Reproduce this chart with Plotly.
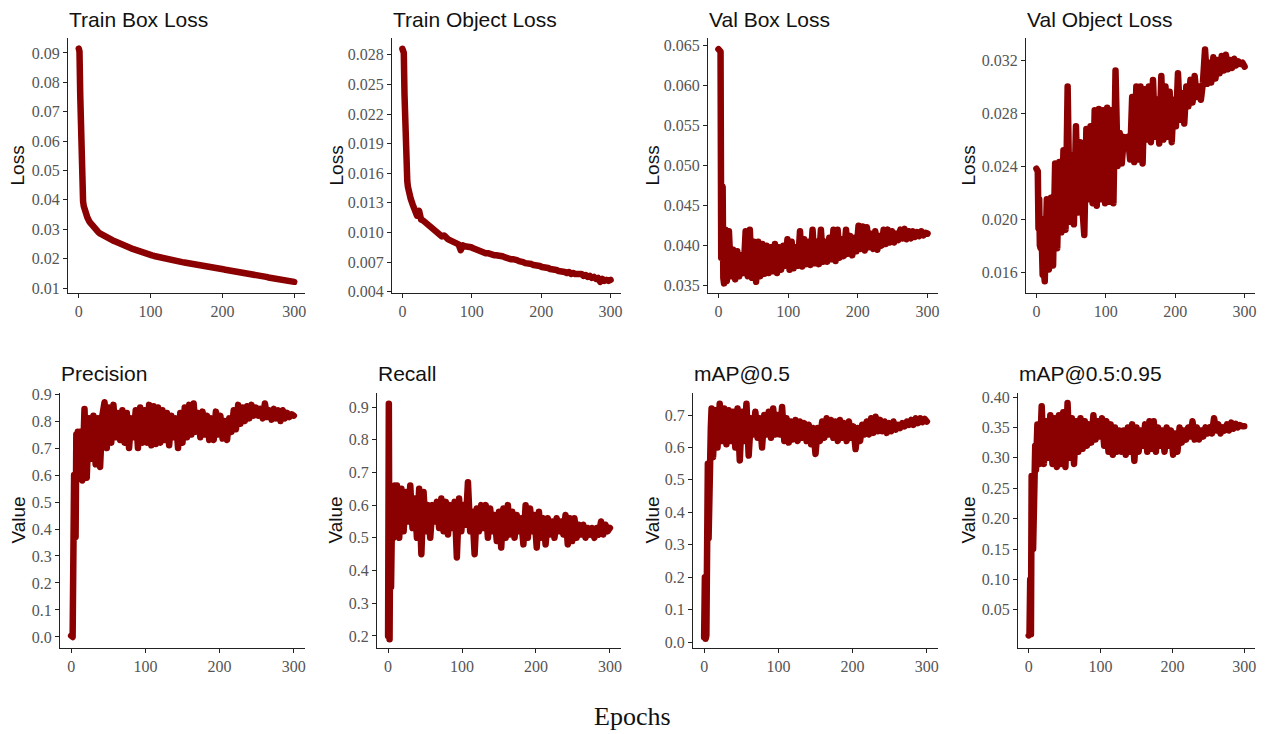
import plotly.graph_objects as go

epochs = [0, 1, 2, 3, 4, 5, 6, 7, 8, 9,
          10, 12, 15, 18, 21, 24, 27, 30, 33, 36,
          39, 42, 45, 48, 51, 54, 57, 60, 63, 66,
          69, 72, 75, 78, 81, 84, 87, 90, 93, 96,
          99, 102, 105, 108, 111, 114, 117, 120, 123, 126,
          129, 132, 135, 138, 141, 144, 147, 150, 153, 156,
          159, 162, 165, 168, 171, 174, 177, 180, 183, 186,
          189, 192, 195, 198, 201, 204, 207, 210, 213, 216,
          219, 222, 225, 228, 231, 234, 237, 240, 243, 246,
          249, 252, 255, 258, 261, 264, 267, 270, 273, 276,
          279, 282, 285, 288, 291, 294, 297, 300]

train_box_loss = [0.0915, 0.0905, 0.0760, 0.0550, 0.0460, 0.0425, 0.0395, 0.0378, 0.0368, 0.0360,
                  0.0354, 0.0340, 0.0325, 0.0315, 0.0307, 0.0299, 0.0291, 0.0285, 0.0280, 0.0276,
                  0.0272, 0.0268, 0.0265, 0.0261, 0.0258, 0.0254, 0.0252, 0.0248, 0.0245, 0.0242,
                  0.0239, 0.0236, 0.0233, 0.0230, 0.0228, 0.0225, 0.0222, 0.0220, 0.0217, 0.0215,
                  0.0213, 0.0211, 0.0209, 0.0207, 0.0205, 0.0203, 0.0202, 0.0200, 0.0198, 0.0197,
                  0.0196, 0.0194, 0.0193, 0.0191, 0.0190, 0.0188, 0.0187, 0.0186, 0.0184, 0.0183,
                  0.0182, 0.0181, 0.0179, 0.0178, 0.0177, 0.0175, 0.0174, 0.0173, 0.0172, 0.0170,
                  0.0169, 0.0168, 0.0166, 0.0165, 0.0164, 0.0162, 0.0161, 0.0160, 0.0159, 0.0157,
                  0.0156, 0.0155, 0.0153, 0.0152, 0.0151, 0.0149, 0.0148, 0.0147, 0.0146, 0.0144,
                  0.0143, 0.0142, 0.0140, 0.0139, 0.0138, 0.0136, 0.0135, 0.0134, 0.0133, 0.0131,
                  0.0130, 0.0129, 0.0127, 0.0126, 0.0125, 0.0123, 0.0122, 0.0121]

train_object_loss = [0.0286, 0.0284, 0.0282, 0.0240, 0.0190, 0.0172, 0.0160, 0.0152, 0.0146, 0.0142,
                     0.0138, 0.0134, 0.0128, 0.0124, 0.0117, 0.0122, 0.0113, 0.0112, 0.0110, 0.0108,
                     0.0106, 0.0104, 0.0102, 0.0101, 0.0099, 0.0098, 0.0096, 0.0097, 0.0094, 0.0093,
                     0.0092, 0.0091, 0.0091, 0.0089, 0.0088, 0.0082, 0.0087, 0.0086, 0.0086, 0.0085,
                     0.0085, 0.0084, 0.0083, 0.0082, 0.0082, 0.0081, 0.0080, 0.0079, 0.0079, 0.0078,
                     0.0078, 0.0077, 0.0077, 0.0077, 0.0076, 0.0076, 0.0075, 0.0074, 0.0074, 0.0073,
                     0.0073, 0.0073, 0.0072, 0.0071, 0.0071, 0.0070, 0.0069, 0.0069, 0.0068, 0.0068,
                     0.0067, 0.0067, 0.0066, 0.0066, 0.0065, 0.0065, 0.0064, 0.0064, 0.0063, 0.0063,
                     0.0062, 0.0062, 0.0061, 0.0061, 0.0060, 0.0060, 0.0059, 0.0060, 0.0058, 0.0059,
                     0.0058, 0.0058, 0.0057, 0.0058, 0.0056, 0.0057, 0.0055, 0.0056, 0.0054, 0.0055,
                     0.0053, 0.0054, 0.0050, 0.0053, 0.0051, 0.0052, 0.0051, 0.0052]

val_box_loss = [0.0645, 0.0644, 0.0643, 0.0642, 0.0385, 0.0475, 0.0473, 0.0360, 0.0353, 0.0395,
                0.0420, 0.0356, 0.0418, 0.0362, 0.0395, 0.0358, 0.0393, 0.0362, 0.0388, 0.0366,
                0.0418, 0.0362, 0.0420, 0.0360, 0.0405, 0.0355, 0.0405, 0.0362, 0.0402, 0.0365,
                0.0400, 0.0366, 0.0398, 0.0368, 0.0402, 0.0366, 0.0398, 0.0370, 0.0400, 0.0375,
                0.0408, 0.0370, 0.0405, 0.0372, 0.0398, 0.0375, 0.0418, 0.0374, 0.0408, 0.0377,
                0.0405, 0.0376, 0.0420, 0.0378, 0.0405, 0.0377, 0.0420, 0.0380, 0.0405, 0.0380,
                0.0410, 0.0383, 0.0420, 0.0381, 0.0420, 0.0385, 0.0408, 0.0387, 0.0420, 0.0390,
                0.0412, 0.0388, 0.0410, 0.0393, 0.0425, 0.0396, 0.0424, 0.0394, 0.0423, 0.0398,
                0.0415, 0.0396, 0.0418, 0.0395, 0.0412, 0.0400, 0.0420, 0.0402, 0.0420, 0.0404,
                0.0418, 0.0404, 0.0415, 0.0407, 0.0420, 0.0409, 0.0421, 0.0408, 0.0418, 0.0409,
                0.0418, 0.0411, 0.0417, 0.0412, 0.0418, 0.0413, 0.0416, 0.0415]

val_object_loss = [0.0238, 0.0237, 0.0236, 0.0193, 0.0215, 0.0180, 0.0178, 0.0200, 0.0170, 0.0158,
                   0.0165, 0.0153, 0.0215, 0.0162, 0.0216, 0.0165, 0.0242, 0.0178, 0.0243, 0.0190,
                   0.0252, 0.0192, 0.0300, 0.0198, 0.0248, 0.0196, 0.0270, 0.0205, 0.0258, 0.0210,
                   0.0188, 0.0268, 0.0215, 0.0270, 0.0212, 0.0282, 0.0210, 0.0283, 0.0215, 0.0282,
                   0.0212, 0.0284, 0.0213, 0.0282, 0.0212, 0.0312, 0.0240, 0.0265, 0.0242, 0.0262,
                   0.0258, 0.0262, 0.0245, 0.0292, 0.0243, 0.0300, 0.0245, 0.0300, 0.0242, 0.0298,
                   0.0260, 0.0300, 0.0258, 0.0305, 0.0262, 0.0290, 0.0257, 0.0308, 0.0260, 0.0300,
                   0.0262, 0.0296, 0.0258, 0.0290, 0.0270, 0.0310, 0.0275, 0.0295, 0.0272, 0.0300,
                   0.0285, 0.0305, 0.0288, 0.0308, 0.0292, 0.0300, 0.0290, 0.0303, 0.0328, 0.0302,
                   0.0318, 0.0303, 0.0322, 0.0306, 0.0320, 0.0310, 0.0323, 0.0312, 0.0324, 0.0313,
                   0.0320, 0.0314, 0.0321, 0.0316, 0.0319, 0.0317, 0.0318, 0.0315]

precision = [0.005, 0.230, 0.000, 0.300, 0.600, 0.450, 0.370, 0.750, 0.620, 0.760,
             0.650, 0.760, 0.580, 0.845, 0.590, 0.810, 0.660, 0.820, 0.640, 0.810,
             0.630, 0.820, 0.870, 0.700, 0.850, 0.720, 0.860, 0.740, 0.830, 0.730,
             0.840, 0.720, 0.830, 0.700, 0.810, 0.740, 0.840, 0.700, 0.850, 0.720,
             0.840, 0.720, 0.860, 0.710, 0.855, 0.715, 0.850, 0.720, 0.840, 0.730,
             0.830, 0.710, 0.820, 0.740, 0.810, 0.700, 0.830, 0.720, 0.850, 0.740,
             0.860, 0.750, 0.865, 0.760, 0.830, 0.740, 0.835, 0.750, 0.820, 0.730,
             0.810, 0.730, 0.835, 0.750, 0.820, 0.735, 0.800, 0.730, 0.810, 0.760,
             0.840, 0.770, 0.860, 0.790, 0.850, 0.800, 0.855, 0.810, 0.860, 0.820,
             0.850, 0.820, 0.845, 0.810, 0.865, 0.815, 0.840, 0.805, 0.845, 0.810,
             0.840, 0.800, 0.840, 0.810, 0.830, 0.815, 0.825, 0.820]

recall = [0.20, 0.91, 0.19, 0.58, 0.35, 0.52, 0.58, 0.50, 0.62, 0.66,
          0.55, 0.66, 0.50, 0.65, 0.52, 0.64, 0.55, 0.66, 0.53, 0.62,
          0.50, 0.65, 0.45, 0.64, 0.52, 0.60, 0.50, 0.60, 0.55, 0.61,
          0.53, 0.62, 0.52, 0.61, 0.51, 0.60, 0.53, 0.61, 0.44, 0.62,
          0.52, 0.60, 0.54, 0.67, 0.52, 0.58, 0.45, 0.59, 0.52, 0.60,
          0.53, 0.60, 0.50, 0.59, 0.52, 0.57, 0.49, 0.58, 0.47, 0.59,
          0.50, 0.60, 0.51, 0.58, 0.50, 0.57, 0.52, 0.56, 0.48, 0.60,
          0.50, 0.59, 0.52, 0.57, 0.47, 0.58, 0.50, 0.56, 0.48, 0.56,
          0.51, 0.55, 0.50, 0.56, 0.52, 0.55, 0.51, 0.57, 0.48, 0.56,
          0.49, 0.56, 0.50, 0.54, 0.51, 0.54, 0.50, 0.53, 0.51, 0.53,
          0.50, 0.53, 0.51, 0.55, 0.51, 0.54, 0.52, 0.53]

map50 = [0.015, 0.200, 0.010, 0.020, 0.550, 0.550, 0.320, 0.600, 0.630, 0.660,
         0.720, 0.570, 0.715, 0.600, 0.735, 0.620, 0.720, 0.610, 0.715, 0.620,
         0.710, 0.600, 0.720, 0.560, 0.710, 0.620, 0.735, 0.575, 0.690, 0.640,
         0.710, 0.630, 0.690, 0.600, 0.700, 0.640, 0.710, 0.630, 0.720, 0.640,
         0.700, 0.640, 0.725, 0.620, 0.690, 0.615, 0.680, 0.625, 0.685, 0.620,
         0.680, 0.630, 0.675, 0.620, 0.670, 0.610, 0.660, 0.580, 0.660, 0.620,
         0.680, 0.630, 0.690, 0.640, 0.685, 0.630, 0.680, 0.620, 0.685, 0.630,
         0.675, 0.620, 0.680, 0.630, 0.665, 0.595, 0.660, 0.620, 0.670, 0.640,
         0.680, 0.640, 0.690, 0.645, 0.695, 0.650, 0.685, 0.650, 0.680, 0.645,
         0.675, 0.650, 0.680, 0.655, 0.670, 0.660, 0.675, 0.665, 0.680, 0.670,
         0.685, 0.670, 0.690, 0.675, 0.690, 0.678, 0.688, 0.680]

map50_95 = [0.008, 0.010, 0.100, 0.010, 0.270, 0.270, 0.150, 0.320, 0.300, 0.320,
            0.280, 0.355, 0.290, 0.385, 0.290, 0.360, 0.300, 0.370, 0.290, 0.365,
            0.285, 0.370, 0.290, 0.375, 0.285, 0.390, 0.300, 0.365, 0.290, 0.360,
            0.310, 0.365, 0.315, 0.360, 0.320, 0.355, 0.325, 0.370, 0.330, 0.360,
            0.335, 0.365, 0.320, 0.360, 0.310, 0.355, 0.305, 0.350, 0.310, 0.345,
            0.310, 0.345, 0.305, 0.350, 0.310, 0.355, 0.295, 0.350, 0.310, 0.345,
            0.320, 0.355, 0.310, 0.360, 0.315, 0.360, 0.310, 0.350, 0.320, 0.345,
            0.310, 0.350, 0.320, 0.345, 0.305, 0.340, 0.310, 0.350, 0.325, 0.345,
            0.330, 0.350, 0.335, 0.360, 0.330, 0.350, 0.330, 0.345, 0.335, 0.350,
            0.340, 0.350, 0.340, 0.365, 0.345, 0.355, 0.340, 0.350, 0.345, 0.355,
            0.345, 0.358, 0.348, 0.356, 0.350, 0.354, 0.352, 0.352]

titles = ["Train Box Loss", "Train Object Loss", "Val Box Loss", "Val Object Loss",
          "Precision", "Recall", "mAP@0.5", "mAP@0.5:0.95"]
y_titles = ["Loss", "Loss", "Loss", "Loss", "Value", "Value", "Value", "Value"]
series = [train_box_loss, train_object_loss, val_box_loss, val_object_loss,
          precision, recall, map50, map50_95]
x_ticks = [0, 100, 200, 300]
y_ticks = [
    [0.01, 0.02, 0.03, 0.04, 0.05, 0.06, 0.07, 0.08, 0.09],
    [0.004, 0.007, 0.010, 0.013, 0.016, 0.019, 0.022, 0.025, 0.028],
    [0.035, 0.040, 0.045, 0.050, 0.055, 0.060, 0.065],
    [0.016, 0.020, 0.024, 0.028, 0.032],
    [0.0, 0.1, 0.2, 0.3, 0.4, 0.5, 0.6, 0.7, 0.8, 0.9],
    [0.2, 0.3, 0.4, 0.5, 0.6, 0.7, 0.8, 0.9],
    [0.0, 0.1, 0.2, 0.3, 0.4, 0.5, 0.6, 0.7],
    [0.05, 0.10, 0.15, 0.20, 0.25, 0.30, 0.35, 0.40],
]
y_fmt = [".2f", ".3f", ".3f", ".3f", ".1f", ".1f", ".1f", ".2f"]

# layout geometry: page pixels; the html body has an 8px margin, so the figure
# origin sits at page (8, 8)
OFF = 8
W, H = 1268 - OFF, 734 - OFF
panel_x = [(68, 305), (392, 621), (708, 938), (1026, 1255),
           (60, 305), (377, 621), (693, 938), (1018, 1255)]
panel_y = [(38, 293)] * 4 + [(393, 648)] * 4
y_ranges = [(0.0083, 0.0951), (0.00387, 0.0297), (0.0341, 0.0659), (0.01442, 0.03366),
            (-0.041, 0.904), (0.163, 0.943), (-0.0185, 0.768), (-0.0127, 0.4066)]
ytitle_x = [17, 336, 652, 968, 18, 335, 652, 968]
title_y = [20, 20, 20, 20, 373, 373, 373, 373]


def px(x):
    return (x - OFF) / W


def py(y):
    return 1 - (y - OFF) / H


fig = go.Figure()
annotations = []
tick_font = dict(family="Liberation Serif, Times New Roman, serif", size=16, color="#555555")
for i in range(8):
    n = "" if i == 0 else str(i + 1)
    fig.add_trace(go.Scatter(x=epochs, y=series[i], mode="lines",
                             line=dict(color="#8B0000", width=6.5),
                             xaxis="x" + n, yaxis="y" + n, showlegend=False,
                             hoverinfo="x+y"))
    x0, x1 = panel_x[i]
    y0, y1 = panel_y[i]
    common = dict(showgrid=False, zeroline=False, showline=True, linecolor="#222222",
                  linewidth=1.1, ticks="outside", ticklen=4, tickwidth=1.1,
                  tickcolor="#222222", tickfont=tick_font, automargin=False)
    fig.layout["xaxis" + n] = dict(domain=[px(x0), px(x1)], anchor="y" + n,
                                   range=[-15, 315], tickvals=x_ticks, **common)
    fig.layout["yaxis" + n] = dict(domain=[py(y1), py(y0)], anchor="x" + n,
                                   range=list(y_ranges[i]), tickvals=y_ticks[i],
                                   tickformat=y_fmt[i], **common)
    annotations.append(dict(text=titles[i], x=px(x0), y=py(title_y[i]), xref="paper",
                            yref="paper", xanchor="left", yanchor="middle", showarrow=False,
                            borderpad=0,
                            font=dict(family="Liberation Sans, Arial, sans-serif", size=21,
                                      color="#111111")))
    annotations.append(dict(text=y_titles[i], x=px(ytitle_x[i]), y=py((y0 + y1) / 2),
                            xref="paper", yref="paper", xanchor="center", yanchor="middle",
                            textangle=-90, showarrow=False,
                            font=dict(family="Liberation Sans, Arial, sans-serif", size=19,
                                      color="#111111")))

annotations.append(dict(text="Epochs", x=px(632), y=py(716), xref="paper", yref="paper",
                        xanchor="center", yanchor="middle", showarrow=False,
                        font=dict(family="Liberation Serif, Times New Roman, serif", size=26,
                                  color="#111111")))

fig.update_layout(width=W, height=H, margin=dict(l=0, r=0, t=0, b=0),
                  paper_bgcolor="white", plot_bgcolor="white",
                  annotations=annotations, showlegend=False)

round_joins = ("document.querySelectorAll('path.js-line').forEach(function(p){"
               "p.style.strokeLinejoin='round';p.style.strokeLinecap='round';});")
fig.write_html("out.html", post_script=round_joins)
